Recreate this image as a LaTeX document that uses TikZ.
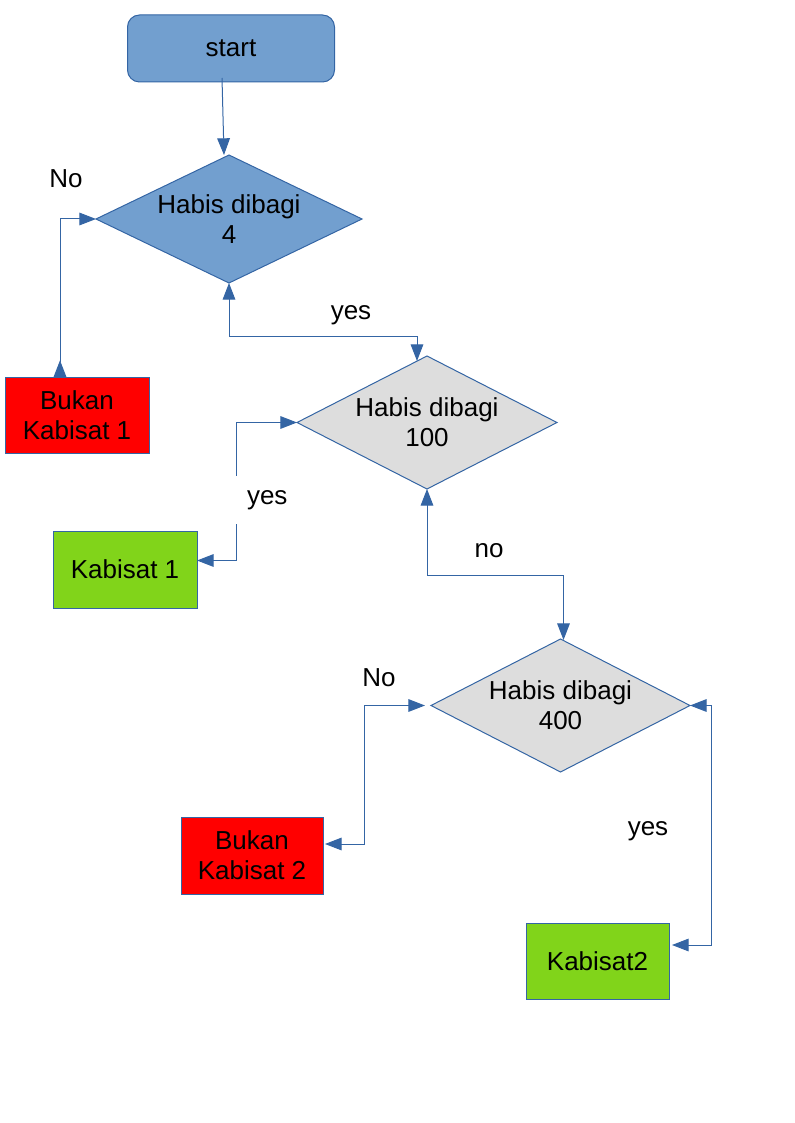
\documentclass[tikz,border=0pt]{standalone}
\usepackage{fontspec}
\setmainfont{Liberation Sans}
\usetikzlibrary{shapes.geometric,arrows.meta,calc}
\definecolor{bfill}{HTML}{729FCF}
\definecolor{bline}{HTML}{3465A4}
\definecolor{gfill}{HTML}{DDDDDD}
\definecolor{rfill}{HTML}{FF0000}
\definecolor{lgreen}{HTML}{81D41A}
\tikzset{
  every node/.style={font=\fontsize{19.5pt}{22.5pt}\selectfont, outer sep=0pt, inner sep=0pt},
  startbox/.style={draw=bline, fill=bfill, line width=0.75pt, rounded corners=9pt, minimum width=155.25pt, minimum height=50.25pt},
  dia/.style={draw=bline, line width=0.75pt, diamond},
  boxnode/.style={draw=bline, line width=0.75pt, align=center},
  txt/.style={align=center},
  lbl/.style={},
  conn/.style={draw=bline, line width=0.75pt},
  tri/.tip={Triangle[length=12.5pt,width=9.5pt]}
}
\begin{document}
\begin{tikzpicture}[x=0.75pt,y=-0.75pt]
\useasboundingbox (0,0) rectangle (794,1123);
% nodes
\node[startbox] (start) at (231,48.5) {start};
\node[dia, fill=bfill, minimum width=199.5pt, minimum height=96pt] (d1) at (229,219) {};
\node[txt] (t1) at (d1) {Habis dibagi\\4};
\node[dia, fill=gfill, minimum width=195pt, minimum height=99.75pt] (d2) at (427,422.5) {};
\node[txt] (t2) at (d2) {Habis dibagi\\100};
\node[dia, fill=gfill, minimum width=194.25pt, minimum height=99.75pt] (d3) at (560.5,705.5) {};
\node[txt] (t3) at (d3) {Habis dibagi\\400};
\node[boxnode, fill=rfill, minimum width=108pt, minimum height=57pt] (b1) at (77,415) {Bukan\\Kabisat 1};
\node[boxnode, fill=lgreen, minimum width=108pt, minimum height=57.75pt] (k1) at (125,569.5) {Kabisat 1};
\node[boxnode, fill=rfill, minimum width=106.5pt, minimum height=57.75pt] (b2) at (252,855.5) {Bukan\\Kabisat 2};
\node[boxnode, fill=lgreen, minimum width=107.25pt, minimum height=57pt] (k2) at (597.5,961) {Kabisat2};
% connectors
\draw[conn,-{tri}] ($(start.south)+(-9,-4)$) -- ($(d1.north)+(-5,0)$);
\draw[conn,{tri[reversed]}-{tri}] ($(b1.north)+(-17,0)$) |- (d1.west);
\draw[conn,{tri}-{tri}] (d1.south) |- ($(d2.north)+(-10,-20)$) -- ($(d2.north)+(-10,5)$);
\draw[conn,{tri}-{tri}] (d2.west) -| ($(k1.east)+(39,-9)$) -- ($(k1.east)+(0,-9)$);
\draw[conn,{tri}-{tri}] (d2.south) |- ($(d3.north)+(3,-64)$) -- ($(d3.north)+(3,1)$);
\draw[conn,{tri}-{tri}] ($(d3.west)+(-6,0)$) -| ($(b2.east)+(41,-11.5)$) -- ($(b2.east)+(2,-11.5)$);
\draw[conn,{tri}-{tri}] (d3.east) -| ($(k2.east)+(42,-16)$) -- ($(k2.east)+(3,-16)$);
% labels
\node[lbl] (l1) at (66,179) {No};
\node[lbl] (l2) at (351,315) {yes};
\node[lbl, fill=white, anchor=west, inner xsep=8.25pt, minimum height=36pt] (l3) at (236,500) {yes};
\node[lbl] (l4) at (489,551) {no};
\node[lbl] (l5) at (379,678) {No};
\node[lbl] (l6) at (648,831) {yes};
\end{tikzpicture}
\end{document}
